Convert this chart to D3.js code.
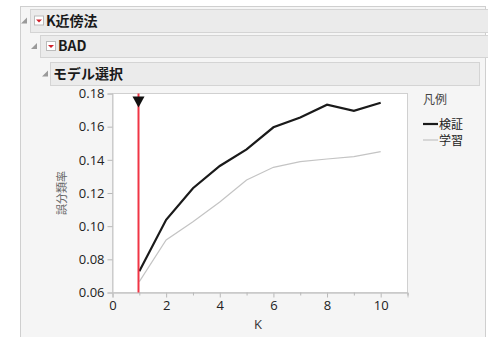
<!DOCTYPE html>
<html><head><meta charset="utf-8">
<script src="https://cdn.jsdelivr.net/npm/d3@7"></script>
<style>
body{margin:0;background:#fff;font-family:"Noto Sans CJK JP","Open Sans",sans-serif;}
</style></head>
<body><svg id="c" width="488" height="337"></svg>
<script>
const kValues = [1,2,3,4,5,6,7,8,9,10];
const validation = [0.0728,0.1038,0.1229,0.1363,0.1463,0.1596,0.1655,0.1732,0.1696,0.1744];
const training = [0.0666,0.0917,0.1027,0.1146,0.1278,0.1355,0.1389,0.1405,0.1419,0.1449];
const xTicks = [0,2,4,6,8,10];
const yTicks = [0.06,0.08,0.10,0.12,0.14,0.16,0.18];
const legendLabels = ["検証","学習"];
const selectedK = 1;

const svg = d3.select("#c");
// outer panel
svg.append("rect").attr("x",20.5).attr("y",6.5).attr("width",465).attr("height",340)
  .attr("fill","#f5f5f5").attr("stroke","#cfcfcf");

const headers = [
  {x:30,y:9,w:470,h:23,tri:22,icon:34,text:"K近傍法",tx:46},
  {x:40,y:35,w:460,h:22,tri:32,icon:46,text:"BAD",tx:58},
  {x:50,y:62,w:429,h:23,tri:43,icon:null,text:"モデル選択",tx:53}
];
headers.forEach(h=>{
  svg.append("rect").attr("x",h.x+0.5).attr("y",h.y+0.5).attr("width",h.w).attr("height",h.h)
    .attr("fill","#ebebeb").attr("stroke","#d4d4d4");
  const cy = h.y + h.h/2;
  svg.append("path").attr("d",`M${h.tri+5},${cy-3} L${h.tri+5},${cy+3} L${h.tri-1},${cy+3} Z`)
    .attr("fill","#9a9a9a");
  if(h.icon!==null){
    svg.append("rect").attr("x",h.icon+0.5).attr("y",cy-4.5).attr("width",9).attr("height",9)
      .attr("fill","#fff").attr("stroke","#bbb");
    svg.append("path").attr("d",`M${h.icon+2},${cy-1} L${h.icon+8},${cy-1} L${h.icon+5},${cy+2} Z`).attr("fill","#d0202a");
  }
  svg.append("text").attr("x",h.tx).attr("y",cy+5).attr("font-size",14).attr("font-weight","bold")
    .attr("fill","#1a1a1a").text(h.text);
});

const x = d3.scaleLinear().domain([0,11]).range([112.5,407.5]);
const y = d3.scaleLinear().domain([0.06,0.18]).range([292.5,93.5]);

svg.append("rect").attr("x",112.5).attr("y",93.5).attr("width",295).attr("height",199)
  .attr("fill","#fff").attr("stroke","#d0d0d0");

svg.append("g").attr("transform","translate(0,292.5)")
  .call(d3.axisBottom(x).tickValues(xTicks).tickFormat(d3.format("d")).tickSize(5).tickPadding(3));
svg.append("g").attr("transform","translate(0,292.5)")
  .call(d3.axisBottom(x).tickValues([1,3,5,7,9,11]).tickFormat("").tickSize(3));
svg.append("g").attr("transform","translate(112.5,0)")
  .call(d3.axisLeft(y).tickValues(yTicks).tickFormat(d3.format(".2f")).tickSize(5).tickPadding(3));
svg.selectAll(".domain").attr("stroke","#c8c8c8");
svg.selectAll(".tick line").attr("stroke","#b8b8b8");
svg.selectAll(".tick text").attr("font-size",13).attr("fill","#222").attr("font-family","Open Sans, sans-serif");

svg.append("text").attr("x",258).attr("y",329).attr("text-anchor","middle").attr("font-size",13)
  .attr("fill","#333").attr("font-family","Open Sans, sans-serif").text("K");
svg.append("text").attr("transform","translate(66,193) rotate(-90)").attr("text-anchor","middle")
  .attr("font-size",11).attr("fill","#666").text("誤分類率");

const line = d3.line().x((d,i)=>x(kValues[i])).y(d=>y(d));
svg.append("path").datum(training).attr("d",line).attr("fill","none").attr("stroke","#c4c4c4").attr("stroke-width",1.2);
svg.append("path").datum(validation).attr("d",line).attr("fill","none").attr("stroke","#1a1a1a").attr("stroke-width",2.2);

const tx = Math.round(x(selectedK)) - 0.5;
svg.append("line").attr("x1",tx).attr("x2",tx).attr("y1",y(0.18)).attr("y2",y(0.06))
  .attr("stroke","#f03545").attr("stroke-width",2);
svg.append("path").attr("d",`M${tx-6},${y(0.18)+3} L${tx+6},${y(0.18)+3} L${tx},${y(0.18)+14} Z`).attr("fill","#111");

// legend
svg.append("text").attr("x",423).attr("y",104).attr("font-size",12).attr("fill","#444").text("凡例");
const lg = [{c:"#1a1a1a",w:2.2},{c:"#c4c4c4",w:1.2}];
legendLabels.forEach((t,i)=>{
  const yy = 124 + i*16;
  svg.append("line").attr("x1",423).attr("x2",438).attr("y1",yy).attr("y2",yy).attr("stroke",lg[i].c).attr("stroke-width",lg[i].w);
  svg.append("text").attr("x",439).attr("y",yy+4.5).attr("font-size",12).attr("fill","#222").text(t);
});
</script></body></html>
